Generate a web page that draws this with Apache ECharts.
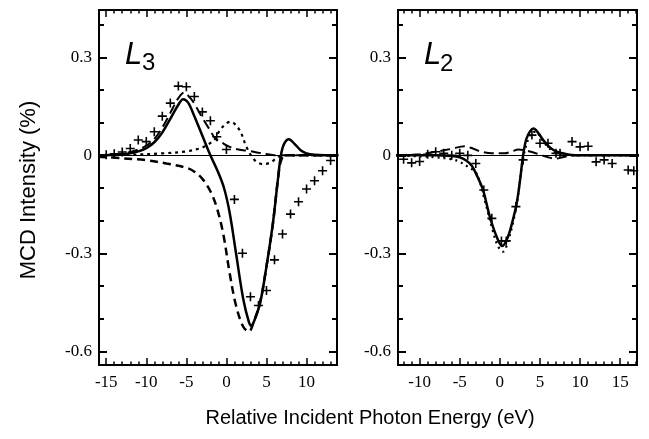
<!DOCTYPE html>
<html>
<head>
<meta charset="utf-8">
<script src="https://cdn.jsdelivr.net/npm/echarts@6/dist/echarts.min.js"></script>
<style>
  html, body { margin: 0; padding: 0; background: #fff; }
  #mcd { width: 649px; height: 439px; }
</style>
</head>
<body>
<div id="mcd"></div>
<script>
// ---- data (x: eV, y: %) ----
var l3Solid = [[-16,0],[-14,0.002],[-12,0.006],[-11,0.012],[-10,0.022],[-9,0.04],[-8,0.07],[-7,0.112],[-6,0.155],[-5.4,0.172],[-4.8,0.162],[-4,0.12],[-3,0.06],[-2,0],[-1.1,-0.048],[-0.3,-0.1],[0.4,-0.175],[1.2,-0.3],[2.1,-0.44],[2.8,-0.51],[3.1,-0.522],[3.5,-0.505],[4.2,-0.453],[5,-0.34],[5.8,-0.208],[6.4,-0.08],[6.8,0],[7.2,0.035],[7.8,0.049],[8.5,0.035],[9.3,0.015],[10,0.006],[11,0.002],[14,0]];
var l3Dashed = [[-16,-0.004],[-13,-0.009],[-10,-0.015],[-7.5,-0.025],[-5,-0.038],[-4,-0.05],[-3,-0.072],[-2,-0.11],[-1.2,-0.16],[-0.4,-0.24],[0.4,-0.36],[1.2,-0.46],[2.1,-0.525],[2.8,-0.54],[3.4,-0.51],[4.2,-0.45],[5,-0.34],[5.8,-0.21],[6.4,-0.08],[6.9,-0.01],[7.6,0],[14,0]];
var l3LongDash = [[-16,0],[-13,0.005],[-11,0.018],[-10,0.03],[-9,0.05],[-8,0.085],[-7,0.13],[-6,0.175],[-5.3,0.192],[-4.5,0.175],[-4,0.158],[-3,0.115],[-2,0.075],[-1.4,0.052],[-0.5,0.038],[0.4,0.026],[1.5,0.018],[2.9,0.013],[4,0.008],[5,0.004],[6,0],[14,0]];
var l3Dotted = [[-16,0],[-12,0.002],[-8,0.006],[-5,0.012],[-3.5,0.02],[-2.5,0.03],[-1.5,0.048],[-0.8,0.077],[0,0.098],[0.6,0.103],[1.2,0.092],[1.8,0.07],[2.5,0.026],[3.5,-0.014],[4.6,-0.027],[5.5,-0.022],[6.2,-0.01],[7,0],[14,0]];
var l3Exp = [[-15,0.002],[-14,0.005],[-13,0.01],[-12,0.021],[-11,0.047],[-10,0.042],[-9,0.072],[-8,0.12],[-7,0.16],[-6,0.212],[-5,0.21],[-4,0.18],[-3,0.133],[-2,0.106],[-1.2,0.057],[0,0.018],[1,-0.135],[2,-0.3],[3,-0.433],[4,-0.46],[5,-0.414],[6,-0.32],[7,-0.241],[8,-0.18],[9,-0.142],[10,-0.103],[11,-0.078],[12,-0.047],[13,-0.016],[14,-0.02]];

var l2Solid = [[-13,0],[-8,0],[-6,-0.002],[-5,-0.006],[-4.2,-0.016],[-3.5,-0.032],[-2.8,-0.065],[-2.1,-0.106],[-1.25,-0.188],[-0.4,-0.249],[0.3,-0.278],[1,-0.25],[1.6,-0.2],[2.1,-0.147],[2.5,-0.08],[2.9,0],[3.3,0.05],[3.8,0.075],[4.2,0.082],[4.8,0.068],[5.4,0.047],[6.2,0.025],[7.1,0.011],[8.7,0.002],[10,0],[17.5,0]];
var l2Dotted = [[-13,0],[-10,-0.003],[-8,-0.006],[-6,-0.012],[-5,-0.02],[-4,-0.035],[-2.9,-0.056],[-1.9,-0.137],[-1,-0.22],[-0.3,-0.275],[0.4,-0.295],[1,-0.265],[1.6,-0.21],[2.1,-0.15],[2.5,-0.08],[2.9,-0.01],[3.4,0.04],[4,0.07],[4.5,0.072],[5.2,0.05],[6,0.025],[7,0.008],[8,0.002],[9,0],[17.5,0]];
var l2LongDash = [[-13,0],[-10,0.003],[-8,0.011],[-6,0.02],[-4.4,0.028],[-3.3,0.02],[-2.3,0.011],[-1,0.006],[0.6,0.006],[1.5,0.012],[2.3,0.018],[3,0.016],[4,0.01],[5,0.002],[6,-0.006],[7,-0.01],[7.8,-0.006],[9,0],[17.5,0]];
var l2Exp = [[-12,-0.012],[-11,-0.023],[-10,-0.019],[-9,0.003],[-8,0.011],[-7,0.006],[-6,0],[-5,0.006],[-4,0],[-3,-0.025],[-2,-0.106],[-1,-0.193],[0.2,-0.262],[0.8,-0.262],[2,-0.157],[2.9,-0.014],[4,0.062],[5,0.037],[6,0.037],[7,0.006],[7.5,0.006],[9,0.042],[10,0.026],[11,0.028],[12,-0.02],[13,-0.014],[14,-0.025],[16,-0.045],[16.7,-0.047]];

var l3MajorX = [-15, -10, -5, 0, 5, 10];
var l3MinorX = [-15,-14,-13,-12,-11,-10,-9,-8,-7,-6,-5,-4,-3,-2,-1,0,1,2,3,4,5,6,7,8,9,10,11,12,13];
var l2MajorX = [-10, -5, 0, 5, 10, 15];
var l2MinorX = [-12,-11,-10,-9,-8,-7,-6,-5,-4,-3,-2,-1,0,1,2,3,4,5,6,7,8,9,10,11,12,13,14,15,16,17];
var majorY = [-0.6, -0.3, 0, 0.3];
var minorY = [-0.6, -0.5, -0.4, -0.3, -0.2, -0.1, 0, 0.1, 0.2, 0.3, 0.4];

var chart = echarts.init(document.getElementById('mcd'));

var serif = '"Liberation Serif", "DejaVu Serif", serif';
var sans = '"Liberation Sans", Arial, sans-serif';
var cross = 'path://M0,3.7L9,3.7L9,5.3L0,5.3ZM3.7,0L5.3,0L5.3,9L3.7,9Z';

function xAxes(grid, min, max, major, minor) {
  var base = { type: 'value', gridIndex: grid, min: min, max: max,
    axisLine: { show: false, onZero: false }, splitLine: { show: false } };
  return [
    Object.assign({}, base, { position: 'bottom',
      axisTick: { inside: true, length: 7, customValues: major, lineStyle: { color: '#000', width: 1.5 } },
      axisLabel: { customValues: major, color: '#000', fontFamily: serif, fontSize: 17, margin: 9 } }),
    Object.assign({}, base, { position: 'bottom',
      axisTick: { inside: true, length: 3.5, customValues: minor, lineStyle: { color: '#000', width: 1.5 } },
      axisLabel: { show: false } }),
    Object.assign({}, base, { position: 'top',
      axisTick: { inside: true, length: 7, customValues: major, lineStyle: { color: '#000', width: 1.5 } },
      axisLabel: { show: false } }),
    Object.assign({}, base, { position: 'top',
      axisTick: { inside: true, length: 3.5, customValues: minor, lineStyle: { color: '#000', width: 1.5 } },
      axisLabel: { show: false } })
  ];
}

function yAxes(grid) {
  var base = { type: 'value', gridIndex: grid, min: -0.642, max: 0.445,
    axisLine: { show: false, onZero: false }, splitLine: { show: false } };
  return [
    Object.assign({}, base, { position: 'left',
      axisTick: { inside: true, length: 8, customValues: majorY, lineStyle: { color: '#000', width: 2 } },
      axisLabel: { customValues: majorY, color: '#000', fontFamily: serif, fontSize: 17, margin: 7,
        formatter: function (v) { return Math.abs(v) < 1e-9 ? '0' : v.toFixed(1); } } }),
    Object.assign({}, base, { position: 'left',
      axisTick: { inside: true, length: 5, customValues: minorY, lineStyle: { color: '#000', width: 2 } },
      axisLabel: { show: false } }),
    Object.assign({}, base, { position: 'right',
      axisTick: { inside: true, length: 8, customValues: majorY, lineStyle: { color: '#000', width: 2 } },
      axisLabel: { show: false } }),
    Object.assign({}, base, { position: 'right',
      axisTick: { inside: true, length: 5, customValues: minorY, lineStyle: { color: '#000', width: 2 } },
      axisLabel: { show: false } })
  ];
}

function curve(grid, data, width, dash) {
  return {
    type: 'line', xAxisIndex: grid * 4, yAxisIndex: grid * 4, data: data,
    smooth: 0.35, showSymbol: false, silent: true,
    lineStyle: { color: '#000', width: width, type: dash }
  };
}

function points(grid, data) {
  return {
    type: 'scatter', xAxisIndex: grid * 4, yAxisIndex: grid * 4, data: data,
    symbol: cross, symbolSize: 9, itemStyle: { color: '#000', opacity: 1 }, silent: true, z: 5
  };
}

function zeroLine(grid) {
  return {
    type: 'line', xAxisIndex: grid * 4, yAxisIndex: grid * 4, data: [],
    markLine: { silent: true, symbol: 'none', label: { show: false },
      lineStyle: { color: '#000', width: 1, type: 'solid' }, data: [{ yAxis: 0 }] }
  };
}

var option = {
  backgroundColor: '#fff',
  animation: false,
  grid: [
    { left: 99, right: 312, top: 10, bottom: 74, show: true, borderColor: '#000', borderWidth: 2, backgroundColor: 'transparent' },
    { left: 398, right: 12, top: 10, bottom: 74, show: true, borderColor: '#000', borderWidth: 2, backgroundColor: 'transparent' }
  ],
  xAxis: xAxes(0, -15.9, 13.8, l3MajorX, l3MinorX).concat(xAxes(1, -12.7, 17.1, l2MajorX, l2MinorX)),
  yAxis: yAxes(0).concat(yAxes(1)),
  series: [
    zeroLine(0),
    curve(0, l3Dotted, 2.2, [3, 4]),
    curve(0, l3LongDash, 2, [10, 5]),
    curve(0, l3Dashed, 2.5, [8, 5]),
    curve(0, l3Solid, 2.5, 'solid'),
    points(0, l3Exp),
    zeroLine(1),
    curve(1, l2Dotted, 2.2, [2, 4]),
    curve(1, l2LongDash, 2, [10, 5]),
    curve(1, l2Solid, 2.5, 'solid'),
    points(1, l2Exp)
  ],
  graphic: [
    { type: 'text', x: 29, y: 190, rotation: Math.PI / 2,
      style: { text: 'MCD Intensity (%)', font: '22px ' + sans, fill: '#000', align: 'center', verticalAlign: 'middle' } },
    { type: 'text', x: 370, y: 418,
      style: { text: 'Relative Incident Photon Energy (eV)', font: '20px ' + sans, fill: '#000', align: 'center', verticalAlign: 'middle' } },
    { type: 'text', x: 125, y: 55, style: { text: 'L', font: 'italic 31px ' + sans, fill: '#000', align: 'left', verticalAlign: 'middle' } },
    { type: 'text', x: 142, y: 63, style: { text: '3', font: '24px ' + sans, fill: '#000', align: 'left', verticalAlign: 'middle' } },
    { type: 'text', x: 424, y: 55, style: { text: 'L', font: 'italic 31px ' + sans, fill: '#000', align: 'left', verticalAlign: 'middle' } },
    { type: 'text', x: 440, y: 64, style: { text: '2', font: '24px ' + sans, fill: '#000', align: 'left', verticalAlign: 'middle' } }
  ]
};

chart.setOption(option);
</script>
</body>
</html>
